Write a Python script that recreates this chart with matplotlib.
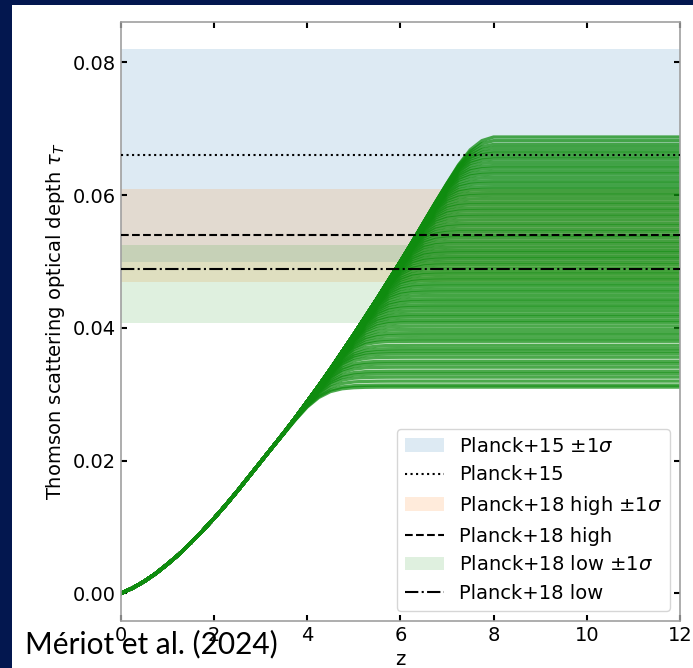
import numpy as np
import matplotlib.pyplot as plt
from matplotlib.patches import Rectangle

# common optical-depth curve (all models overlap here)
z_grid = [0.0, 0.25, 0.5, 0.75, 1.0, 1.25, 1.5, 1.75, 2.0, 2.25, 2.5, 2.75,
          3.0, 3.25, 3.5, 3.75, 4.0, 4.25, 4.5, 4.75, 5.0, 5.25, 5.5, 5.75,
          6.0, 6.25, 6.5, 6.75, 7.0, 7.25, 7.5, 7.75, 8.0]
tau_common = [0.0, 0.0008, 0.0018, 0.0030, 0.0044, 0.0059, 0.0076, 0.0094,
              0.0113, 0.0133, 0.0154, 0.0176, 0.0198, 0.0220, 0.0242, 0.0265,
              0.0289, 0.0313, 0.0338, 0.0364, 0.0390, 0.0417, 0.0444, 0.0472,
              0.0500, 0.0529, 0.0559, 0.0589, 0.0619, 0.0650, 0.0681, 0.0713,
              0.0745]
# final (plateau) tau of each model
tau_final = [0.0311, 0.0314, 0.0320, 0.0326, 0.0331, 0.0335, 0.0341, 0.0346,
             0.0350, 0.0356, 0.0361, 0.0365, 0.0369, 0.0374, 0.0380, 0.0384,
             0.0389, 0.0393, 0.0398, 0.0403, 0.0408, 0.0412, 0.0417, 0.0421,
             0.0426, 0.0431, 0.0435, 0.0440, 0.0444, 0.0449, 0.0454, 0.0458,
             0.0463, 0.0467, 0.0472, 0.0476, 0.0481, 0.0485, 0.0490, 0.0495,
             0.0499, 0.0504, 0.0508, 0.0513, 0.0517, 0.0522, 0.0527, 0.0531,
             0.0536, 0.0540, 0.0545, 0.0549, 0.0554, 0.0558, 0.0563, 0.0568,
             0.0572, 0.0577, 0.0581, 0.0586, 0.0590, 0.0595, 0.0600, 0.0604,
             0.0609, 0.0613, 0.0618, 0.0622, 0.0627, 0.0632, 0.0636, 0.0641,
             0.0645, 0.0650, 0.0655, 0.0659, 0.0664, 0.0668, 0.0673, 0.0678,
             0.0684, 0.0690]

band_names = ["Planck+15", "Planck+18 high", "Planck+18 low"]
band_mid = [0.066, 0.054, 0.0489]
band_lo = [0.050, 0.047, 0.0408]
band_hi = [0.082, 0.061, 0.0525]
band_colors = ["C0", "C1", "C2"]
band_ls = [":", "--", "-."]

fig = plt.figure(figsize=(6.93, 6.68), dpi=100)
fig.patch.set_facecolor("#03174f")
fig.patches.append(Rectangle((12/693, 0), 1, 1-5/668, transform=fig.transFigure,
                             facecolor="white", edgecolor="none", zorder=-10))
ax = fig.add_axes([120.7/693, 1-620.7/668, (680-120.7)/693, (620.7-22)/668])

for name, lo, hi, mid, c, ls in zip(band_names, band_lo, band_hi, band_mid, band_colors, band_ls):
    ax.axhspan(lo, hi, color=c, alpha=0.15, lw=0, zorder=1, label=name+r" $\pm1\sigma$")
    ax.axhline(mid, color="k", ls=ls, lw=1.5, zorder=4, label=name)

base = np.array(tau_common)
k = 0.0024
for p in tau_final:
    tau = -k*np.logaddexp(-base/k, -p/k)
    ax.plot(z_grid + [12], list(tau) + [tau[-1]], color="#0f8c0f", lw=2.4, alpha=0.75, zorder=2)

ax.set_xlim(0, 12)
ax.set_ylim(-0.0041, 0.0861)
ax.set_xticks([0, 2, 4, 6, 8, 10, 12])
ax.set_yticks([0.0, 0.02, 0.04, 0.06, 0.08])
ax.set_yticklabels(["0.00", "0.02", "0.04", "0.06", "0.08"])
ax.tick_params(direction="in", top=True, right=True, length=4, width=1.5, labelsize=14)
for s in ax.spines.values():
    s.set_color("#a0a0a0")
    s.set_linewidth(1.2)
ax.set_xlabel("z", fontsize=14)
ax.set_ylabel(r"Thomson scattering optical depth $\tau_T$", fontsize=14)
ax.legend(loc="lower right", fontsize=14)

fig.text(25/693, 1-653/668, "Mériot et al. (2024)", fontsize=21.5, family="Lato",
         va="baseline", ha="left", color="black")

fig.savefig("out.png", dpi=100)
